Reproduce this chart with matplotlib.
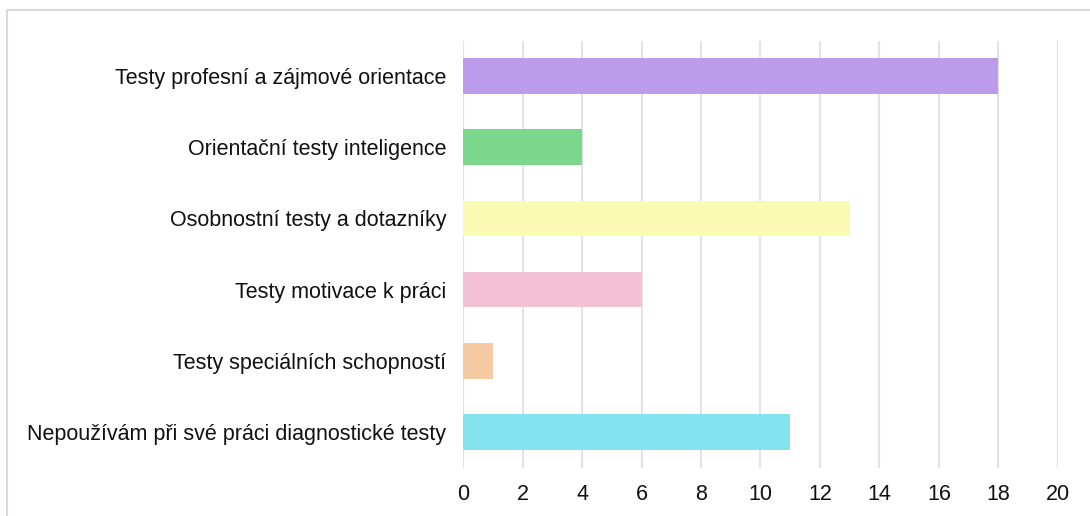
import matplotlib
matplotlib.use("Agg")
import matplotlib.pyplot as plt
from matplotlib.lines import Line2D

categories = [
    "Testy profesní a zájmové orientace",
    "Orientační testy inteligence",
    "Osobnostní testy a dotazníky",
    "Testy motivace k práci",
    "Testy speciálních schopností",
    "Nepoužívám při své práci diagnostické testy",
]
values = [18, 4, 13, 6, 1, 11]
colors = ["#BC9BEA", "#7BD78B", "#FAFAB4", "#F4C2D4", "#F6CAA2", "#85E3F0"]
xticks = [0, 2, 4, 6, 8, 10, 12, 14, 16, 18, 20]

plt.rcParams["font.family"] = ["Liberation Sans", "DejaVu Sans"]

fig = plt.figure(figsize=(10.9, 5.16), dpi=100)
ax = fig.add_axes([0.4248, 0.0938, 0.5458, 0.8277])

ypos = list(range(len(categories)))
ax.barh(ypos, values, height=0.5, color=colors, zorder=3)
ax.set_ylim(len(categories) - 0.5, -0.5)
ax.set_xlim(0, 20)
ax.set_xticks(xticks)
ax.set_xticklabels([str(t) for t in xticks], fontsize=15.5, color="#111111")
ax.set_yticks(ypos)
ax.set_yticklabels(categories, fontsize=15.5, color="#111111")
ax.tick_params(axis="both", length=0)
ax.tick_params(axis="x", pad=12)
ax.tick_params(axis="y", pad=12)
ax.grid(axis="x", color="#E3E3E3", linewidth=1.5, zorder=0)
ax.grid(axis="y", visible=False)
for s in ax.spines.values():
    s.set_visible(False)

# outer frame (partially visible: top and left)
fig.add_artist(Line2D([7 / 1090, 7 / 1090], [0, 1 - 10 / 516], transform=fig.transFigure,
                      color="#DADADA", linewidth=1.5))
fig.add_artist(Line2D([7 / 1090, 1], [1 - 10 / 516, 1 - 10 / 516], transform=fig.transFigure,
                      color="#DADADA", linewidth=1.5))

fig.savefig("out.png", dpi=100)
